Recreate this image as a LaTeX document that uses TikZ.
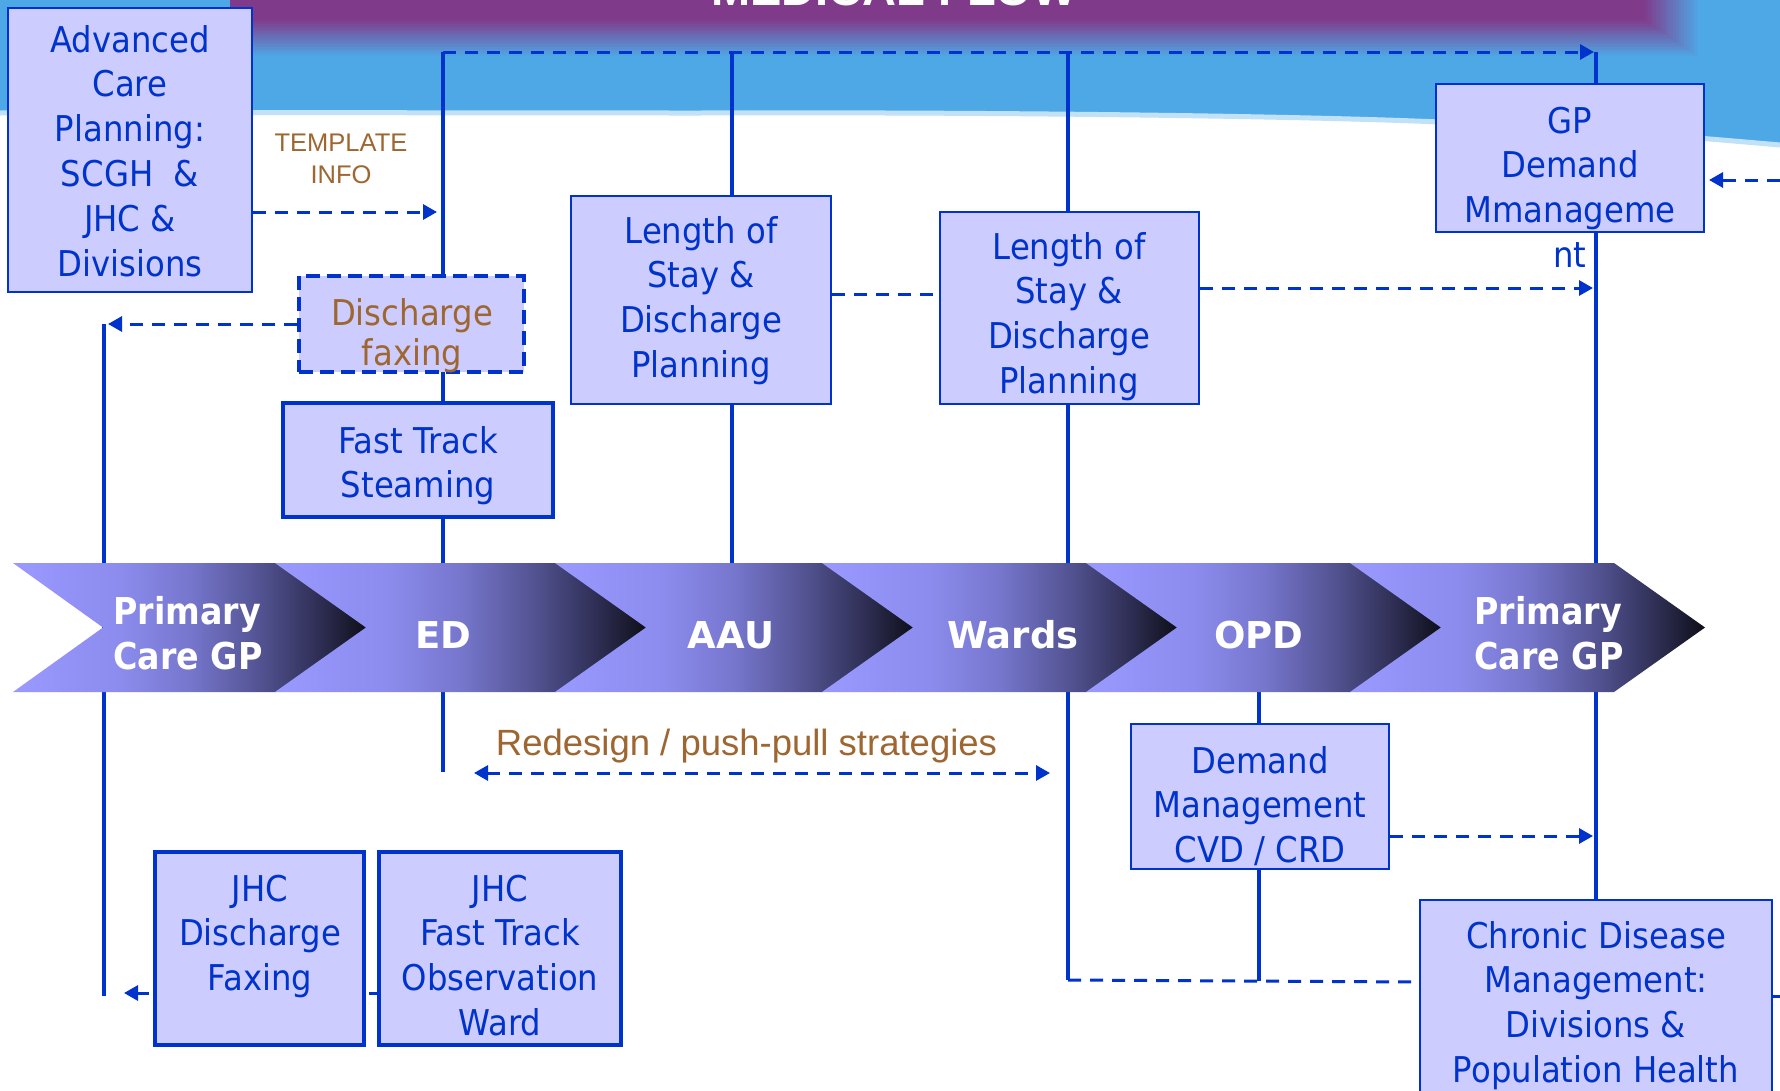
\documentclass[tikz,border=0pt]{standalone}
\usepackage{fontspec}
\setmainfont{DejaVu Sans}[FakeStretch=0.91]
\newfontfamily\arialf{Liberation Sans}
\newfontfamily\chevf{DejaVu Sans}
\newfontfamily\chevn{DejaVu Sans}[FakeStretch=0.9]
\usetikzlibrary{arrows.meta}
\definecolor{lineblue}{RGB}{0,51,204}
\definecolor{boxfill}{RGB}{204,204,255}
\definecolor{txtbrown}{RGB}{158,102,48}
\definecolor{hdrblue}{RGB}{78,168,230}
\definecolor{bannerpurple}{RGB}{128,58,138}
\definecolor{chA}{RGB}{153,153,255}
\definecolor{chB}{RGB}{140,140,238}
\definecolor{chC}{RGB}{118,118,205}
\definecolor{chD}{RGB}{82,82,145}
\definecolor{chE}{RGB}{45,45,82}
\definecolor{chF}{RGB}{14,14,24}
\pgfdeclarehorizontalshading{chev}{100bp}{color(0bp)=(chA); color(25bp)=(chA); color(40bp)=(chB); color(50bp)=(chC); color(60bp)=(chD); color(68.5bp)=(chE); color(75bp)=(chF); color(100bp)=(chF)}
\begin{document}
\begin{tikzpicture}[x=1pt,y=-1pt,
  vline/.style={draw=lineblue, line width=4pt},
  dline/.style={draw=lineblue, line width=3pt, dash pattern=on 13pt off 9pt},
  tipend/.style={-{Triangle[length=14pt,width=15pt]}},
  tipboth/.style={{Triangle[length=14pt,width=15pt]}-{Triangle[length=14pt,width=15pt]}},
  thinbox/.style={draw=lineblue, line width=2pt, fill=boxfill, inner sep=0pt},
  thickbox/.style={draw=lineblue, line width=4.5pt, fill=boxfill, inner sep=0pt},
  dashbox/.style={draw=lineblue, line width=4pt, dash pattern=on 14pt off 7pt, fill=boxfill, inner sep=0pt},
  btxt/.style={text=lineblue, font=\fontsize{35.5}{44.8}\selectfont, align=center, inner sep=0pt, anchor=north},
  chevlab/.style={text=white, font=\chevf\bfseries\fontsize{37}{45}\selectfont, inner sep=0pt, anchor=base},
  chevlab2/.style={text=white, font=\chevn\bfseries\fontsize{37}{45}\selectfont, inner sep=0pt, align=left, anchor=north west}
]
\useasboundingbox (0,0) rectangle (1780,1090);
% ---------- background ----------
\fill[white] (0,0) rectangle (1780,1090);
\fill[hdrblue] (0,0) -- (1780,0) -- (1780,145) .. controls (1700,138) and (1560,126) .. (1440,122)
  .. controls (1300,116) and (1000,112) .. (700,113) .. controls (400,113) and (200,112) .. (0,113) -- cycle;
\draw[line width=5pt, hdrblue!35] (1780,145) .. controls (1700,138) and (1560,126) .. (1440,122)
  .. controls (1300,116) and (1000,112) .. (700,113) .. controls (400,113) and (200,112) .. (0,113);
\foreach \k in {20,19,...,0}{
  \pgfmathsetmacro\p{100*(1-\k/20)}
  \fill[bannerpurple!\p!hdrblue] (230,0) rectangle ({1645+2.8*\k},{20+1.9*\k});
}
\node[text=white, font=\arialf\bfseries\fontsize{47}{56}\selectfont, inner sep=0pt, anchor=base] (title) at (894,5) {MEDICAL FLOW};
% ---------- junction coordinates ----------
\coordinate (edTop) at (443,52);   \coordinate (edBot) at (443,772);
\coordinate (aauTop) at (732,52);  \coordinate (aauBot) at (732,600);
\coordinate (wdTop) at (1068,52);  \coordinate (wdBot) at (1068,980);
\coordinate (gpTop) at (1596,52);  \coordinate (gpBot) at (1596,910);
\coordinate (lfTop) at (104,324);  \coordinate (lfBot) at (104,996);
\coordinate (opdTop) at (1259,640); \coordinate (opdBot) at (1259,981);
\coordinate (gpTip) at (1594,52);
\coordinate (edTipA) at (437,212);
\coordinate (lfTip) at (108,324);
\coordinate (gpTipB) at (1593,288);
\coordinate (gpTipC) at (1593,836);
\coordinate (rightIn) at (1780,180);
\coordinate (rdL) at (474,773); \coordinate (rdR) at (1050,773);
\coordinate (jA) at (149,993); \coordinate (jB) at (124,993);
\coordinate (jS) at (369,993);
\coordinate (cdmOut) at (1780,996);
% ---------- solid vertical lines ----------
\draw[vline] (edTop) -- (edBot);
\draw[vline] (aauTop) -- (aauBot);
\draw[vline] (wdTop) -- (wdBot);
\draw[vline] (gpTop) -- (gpBot);
\draw[vline] (lfTop) -- (lfBot);
\draw[vline] (opdTop) -- (opdBot);
% ---------- boxes ----------
\node[thinbox, minimum width=244pt, minimum height=284pt] (acp) at (130,150) {};
\node[dashbox, minimum width=225pt, minimum height=96pt] (df) at (411.5,324) {};
\node[thickbox, minimum width=270pt, minimum height=114pt] (fts) at (418,460) {};
\node[thinbox, minimum width=260pt, minimum height=208pt] (los1) at (701,300) {};
\node[thinbox, minimum width=259pt, minimum height=192pt] (los2) at (1069.5,308) {};
\node[thinbox, minimum width=268pt, minimum height=148pt] (gp) at (1570,158) {};
\node[thinbox, minimum width=258pt, minimum height=145pt] (dm) at (1260,796.5) {};
\node[thinbox, minimum width=352pt, minimum height=200pt] (cdm) at (1596,1000) {};
\node[thickbox, minimum width=209pt, minimum height=193pt] (jdf) at (259.5,948.5) {};
\node[thickbox, minimum width=242pt, minimum height=193pt] (jft) at (500,948.5) {};
% ---------- dashed connectors ----------
\draw[dline, tipend] (edTop) -- (gpTip);
\draw[dline, tipend] (acp.east |- edTipA) -- (edTipA);
\draw[dline, tipend] (df.west) -- (lfTip);
\draw[dline] (los1.east |- 0,294) -- (los2.west |- 0,294);
\draw[dline, tipend] (los2.east |- gpTipB) -- (gpTipB);
\draw[dline, tipend] (rightIn) -- ([xshift=4pt]gp.east |- rightIn);
\draw[dline, tipend] (dm.east |- gpTipC) -- (gpTipC);
\draw[dline, tipboth] (rdL) -- (rdR);
\draw[dline] (wdBot) -- (cdm.west |- 0,982);
\draw[draw=lineblue, line width=3pt, tipend] (jA) -- (jB);
\draw[draw=lineblue, line width=3pt] (jft.west |- jS) -- (jS);
\draw[draw=lineblue, line width=3pt] (cdm.east |- cdmOut) -- (cdmOut);
% ---------- box texts ----------
\node[btxt] (acpT) at (130,20.5) {\strut Advanced\\Care\\Planning:\\SCGH~~\&\\JHC \&\\Divisions};
\node[btxt, text=txtbrown, font=\fontsize{35.5}{40}\selectfont] (dfT) at (412,297) {\strut Discharge\\faxing};
\node[btxt] (ftsT) at (418,421.5) {\strut Fast Track\\Steaming};
\node[btxt] (los1T) at (701,211.5) {\strut Length of\\Stay \&\\Discharge\\Planning};
\node[btxt] (los2T) at (1069,227.5) {\strut Length of\\Stay \&\\Discharge\\Planning};
\node[btxt] (gpT) at (1570,101.5) {\strut GP\\Demand\\Mmanageme\\nt};
\node[btxt] (dmT) at (1260,741.5) {\strut Demand\\Management\\CVD / CRD};
\node[btxt] (cdmT) at (1596,916.5) {\strut Chronic Disease\\Management:\\Divisions \&\\Population Health};
\node[btxt] (jdfT) at (260,869.5) {\strut JHC\\Discharge\\Faxing};
\node[btxt] (jftT) at (500,869.5) {\strut JHC\\Fast Track\\Observation\\Ward};
\node[text=txtbrown, font=\arialf\fontsize{25.5}{32}\selectfont, align=center, inner sep=0pt, anchor=north] (tmpl) at (341,128.7) {\strut TEMPLATE\\INFO};
\node[text=txtbrown, font=\arialf\fontsize{36.5}{44}\selectfont, inner sep=0pt, anchor=base] (redesign) at (746.5,755) {Redesign / push-pull strategies};
% ---------- chevron band ----------
\foreach \a/\b/\n in {13/276/103, 275/556/366, 555/823/646, 822/1087/913, 1086/1351/1177, 1350/1614/1441}{
  \shade[shading=chev] (\a,563) -- (\b,563) -- ({\b+91},627.5) -- (\b,692) -- (\a,692) -- (\n,627.5) -- cycle;
}
\node[chevlab2] (l1) at (113,592.5) {\strut Primary\\Care GP};
\node[chevlab] (l2) at (443,648) {ED};
\node[chevlab] (l3) at (731,648) {AAU};
\node[chevlab] (l4) at (1013,648) {Wards};
\node[chevlab] (l5) at (1259,648) {OPD};
\node[chevlab2] (l6) at (1474,592.5) {\strut Primary\\Care GP};
\end{tikzpicture}
\end{document}
